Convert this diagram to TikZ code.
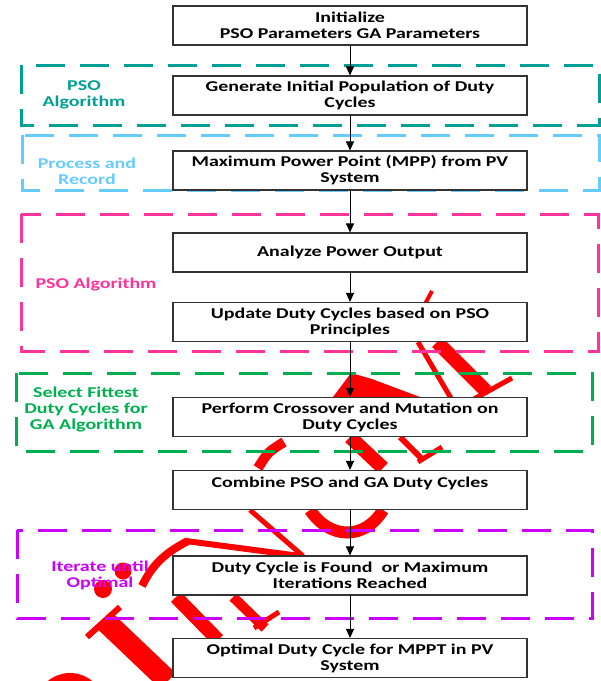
\documentclass[tikz,border=0pt]{standalone}
\usepackage{fontspec}
\setmainfont{Carlito}[FakeStretch=1.33]
\usetikzlibrary{arrows.meta}
\definecolor{tealgrp}{RGB}{0,160,150}
\definecolor{bluegrp}{RGB}{102,204,255}
\definecolor{pinkgrp}{RGB}{255,51,153}
\definecolor{greengrp}{RGB}{0,176,80}
\definecolor{violetgrp}{RGB}{204,0,255}

\begin{document}
\begin{tikzpicture}[x=1pt,y=-1pt,
  stepbox/.style={draw=black!80, line width=1.1pt, fill=white, minimum width=354pt,
    minimum height=39pt, inner sep=0pt, align=center, font=\fontsize{15}{16}\selectfont\bfseries},
  grp/.style={line width=3pt, dash pattern=on 29pt off 15pt},
  grplabel/.style={align=center, font=\fontsize{15}{16}\selectfont\bfseries},
  flow/.style={-{Triangle[length=9pt,width=8pt]}, line width=0.9pt},
  wmark/.style={draw=red, line cap=butt}]
\useasboundingbox (0,0) rectangle (601,681);

% red watermark, behind everything
\draw[wmark, line width=4pt] (432,291)--(425,304);
\draw[wmark, line width=5pt] (418,342)--(452,400);
\draw[wmark, line width=14pt] (437,342)--(486,391);
\draw[wmark, line width=5pt] (474,399)--(512,378);
\fill[red] (333,397)--(351,373)--(372,379)--(420,397)--cycle;
\draw[wmark, line width=14pt] (350,437)--(383,468);
\draw[wmark, line width=6pt] (400,437)--(423,460);
\draw[wmark, line width=5pt] (418,462)--(442,447);
\draw[wmark, line width=10pt] (284,442) .. controls (268,452) .. (258,468);
\draw[wmark, line width=5pt] (250,510)--(303,556);
\draw[wmark, line width=12pt] (310,510) .. controls (330,540) and (365,540) .. (383,510);
\draw[wmark, line width=6pt] (186,541)--(300,556);
\draw[wmark, line width=8pt] (188,541) .. controls (160,555) and (150,570) .. (142,586);
\draw[wmark, line width=14pt] (176,597)--(218,640);
\draw[wmark, line width=10pt] (233,597)--(265,628);
\draw[wmark, line width=5pt] (254,628)--(279,612);
\draw[wmark, line width=22pt] (104,620)--(168,681);
\draw[wmark, line width=6pt] (87,637)--(120,607);
\fill[red] (103,589) circle[radius=9] (123,571) circle[radius=8.5];
\draw[wmark, line width=14pt] (70,708) circle[radius=28];

% dashed groups
\draw[grp, draw=tealgrp] (21,65) rectangle (599,125);
\draw[grp, draw=bluegrp] (22,135) rectangle (599,190);
\draw[grp, draw=pinkgrp] (21,214) rectangle (598,351);
\draw[grp, draw=greengrp] (16,373) rectangle (592,451);
\draw[grp, draw=violetgrp] (17,530) rectangle (592,618);

\node[grplabel, text=tealgrp] (lpso) at (84,95) {PSO\\Algorithm};
\node[grplabel, text=bluegrp] (lrec) at (87,171) {Process and\\Record};
\node[grplabel, text=pinkgrp] (lpso2) at (96,285) {PSO Algorithm};
\node[grplabel, text=greengrp] (lfit) at (86,410) {Select Fittest\\Duty Cycles for\\GA Algorithm};
\node[grplabel, text=violetgrp] (liter) at (100,575) {Iterate until\\Optimal};

% steps
\node[stepbox] (init) at (350,25.5) {Initialize\\PSO Parameters GA Parameters};
\node[stepbox] (gen) at (350,95.5) {Generate Initial Population of Duty\\Cycles};
\node[stepbox] (mpp) at (350,170.5) {Maximum Power Point (MPP) from PV\\System};
\node[stepbox] (anal) at (350,252.5) {Analyze Power Output};
\node[stepbox] (upd) at (350,322) {Update Duty Cycles based on PSO\\Principles};
\node[stepbox] (cross) at (350,417) {Perform Crossover and Mutation on\\Duty Cycles};
\node[stepbox] (comb) at (350,490) {Combine PSO and GA Duty Cycles\\\mbox{}};
\node[stepbox] (found) at (350,575.5) {Duty Cycle is Found~ or Maximum\\Iterations Reached};
\node[stepbox] (opt) at (350,658) {Optimal Duty Cycle for MPPT in PV\\System};

\draw[flow] (init)--(gen);
\draw[flow] (gen)--(mpp);
\draw[flow] (mpp)--(anal);
\draw[flow] (anal)--(upd);
\draw[flow] (upd)--(cross);
\draw[flow] (cross)--(comb);
\draw[flow] (comb)--(found);
\draw[flow] (found)--(opt);
\end{tikzpicture}
\end{document}
